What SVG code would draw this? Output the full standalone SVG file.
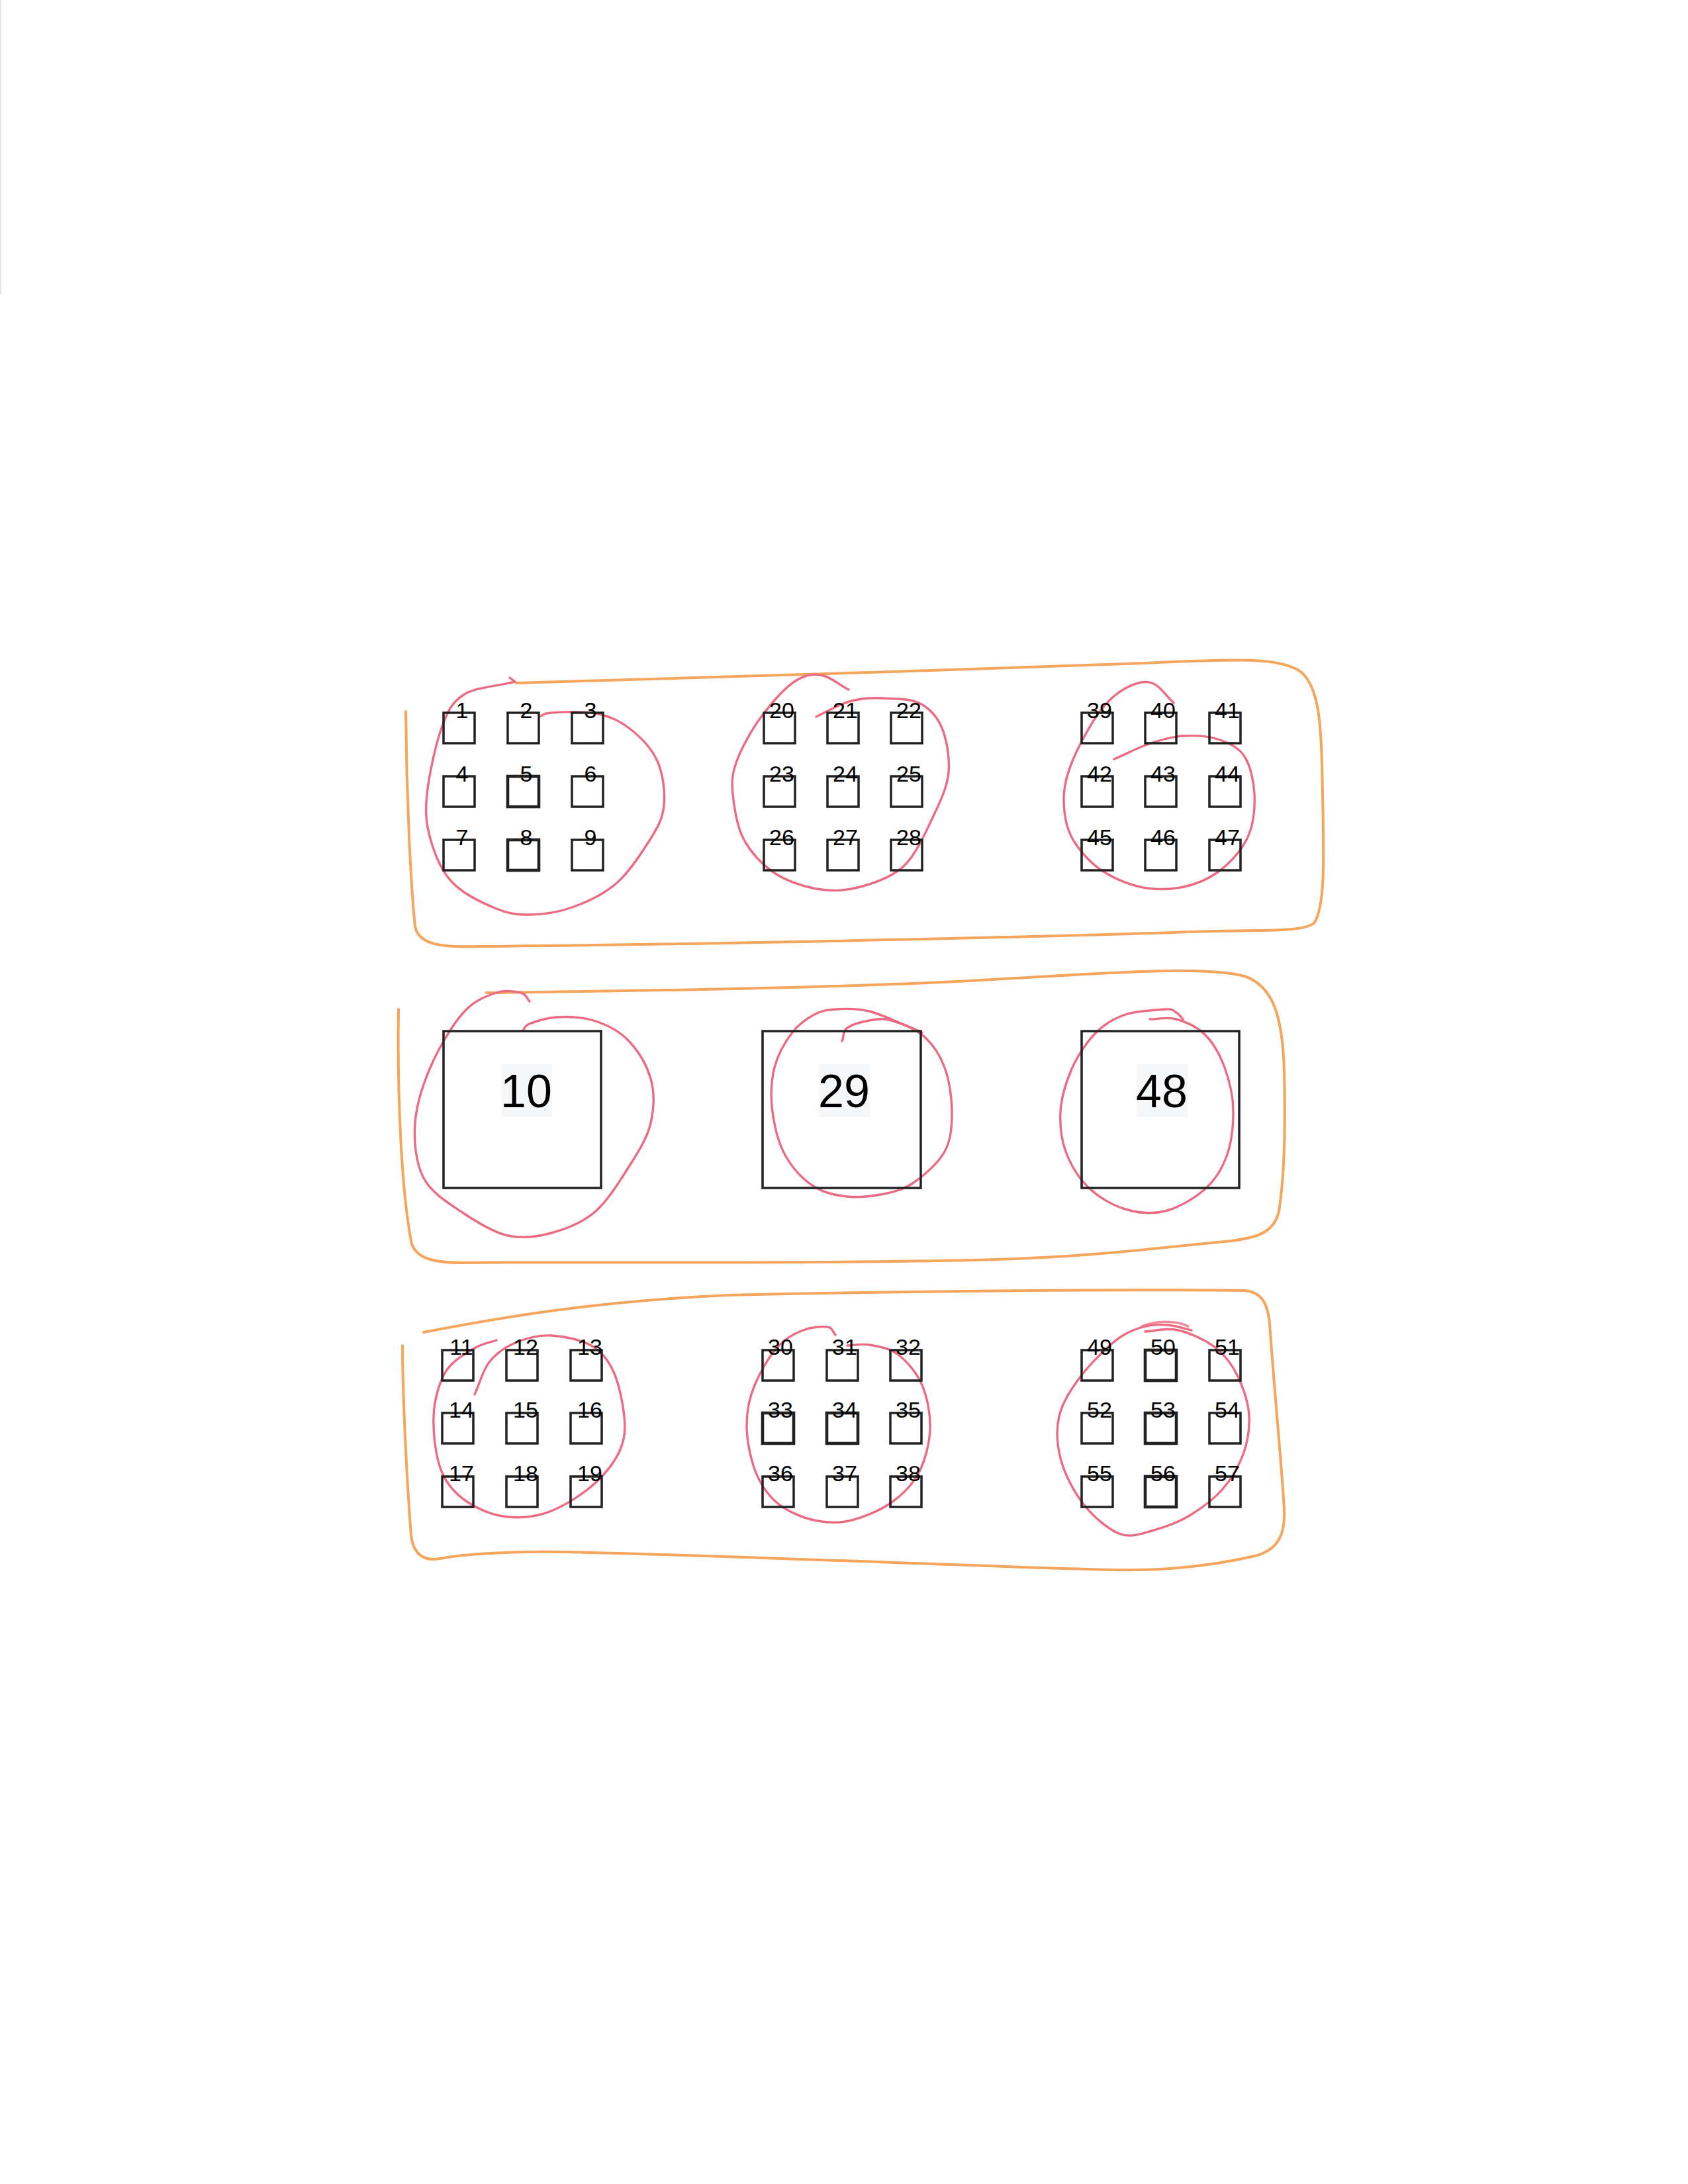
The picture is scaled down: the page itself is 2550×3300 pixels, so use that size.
<svg xmlns="http://www.w3.org/2000/svg" width="2550" height="3300" viewBox="0 0 2550 3300">
<style>
.bx{fill:none;stroke:#222;stroke-width:3.5}
.bx.b{stroke-width:4.6}
.lb{font-family:"Liberation Sans",Arial,sans-serif;font-size:34px;fill:#000;text-anchor:middle}
.big{font-family:"Liberation Sans",Arial,sans-serif;font-size:70px;fill:#000;text-anchor:middle}
.lbg{fill:#f6f7f9}
.red{fill:none;stroke:#ec6b82;stroke-width:3.4;stroke-linecap:round;stroke-linejoin:round}
.org{fill:none;stroke:#f5a65c;stroke-width:4;stroke-linecap:round;stroke-linejoin:round}
</style>
<rect x="0" y="0" width="2550" height="3300" fill="#ffffff"/>
<line x1="1" y1="0" x2="1" y2="445" stroke="#e4e4e4" stroke-width="2"/>

<g id="outlines">
<path id="band-top" class="org" d="M780,1032 C1000,1026 1400,1014 1700,1003 C1850,997 1930,990 1965,1015 C1995,1040 1996,1100 1998,1200 C2000,1300 2002,1370 1985,1395 C1965,1410 1900,1404 1800,1408 C1500,1418 1000,1428 720,1430 C660,1432 632,1425 627,1400 C620,1330 614,1200 613,1075"/>
<path id="band-mid" class="org" d="M735,1500 C1000,1497 1300,1492 1500,1480 C1700,1468 1820,1460 1880,1475 C1925,1490 1938,1540 1940,1620 C1942,1700 1940,1780 1932,1830 C1925,1862 1900,1870 1860,1875 C1750,1885 1650,1900 1470,1904 C1200,1910 900,1906 700,1908 C650,1908 630,1900 622,1880 C606,1800 600,1650 602,1525"/>
<path id="band-bot" class="org" d="M640,2013 C760,1990 900,1966 1100,1957 C1400,1950 1700,1948 1880,1950 C1905,1952 1915,1968 1918,2000 C1925,2100 1935,2200 1940,2280 C1942,2320 1930,2340 1900,2350 C1850,2362 1780,2374 1680,2372 C1500,2368 1100,2350 850,2345 C770,2344 700,2348 665,2355 C638,2360 624,2346 621,2320 C614,2230 608,2100 608,2033"/>
</g>

<g id="loops">
<path id="loop-a-top" class="red" d="M770,1024 L778,1030 C752,1037 718,1038 700,1050 S676,1075 667,1100 S648,1172 645,1200 S644,1245 650,1267 S666,1315 683,1333 S730,1365 750,1373 S780,1382 800,1382 S845,1378 867,1370 S914,1350 933,1333 S971,1286 983,1267 S1001,1236 1003,1217 S1002,1170 993,1150 S966,1112 950,1100 S920,1082 900,1078 S847,1076 833,1077 S822,1080 817,1082"/>
<path id="loop-b-top" class="red" d="M1282,1042 C1268,1035 1254,1022 1240,1020 S1215,1020 1200,1030 S1165,1063 1150,1083 S1120,1131 1113,1150 S1105,1181 1107,1200 S1113,1248 1123,1267 S1149,1304 1167,1317 S1211,1339 1233,1343 S1278,1346 1300,1340 S1349,1325 1367,1307 S1399,1256 1410,1233 S1431,1189 1433,1167 S1430,1117 1423,1100 S1405,1071 1390,1063 S1351,1056 1333,1055 S1300,1055 1283,1060 S1250,1075 1233,1083"/>
<path id="loop-c-top" class="red" d="M1773,1062 C1762,1052 1752,1036 1740,1032 S1713,1033 1700,1040 S1673,1059 1660,1077 S1629,1128 1620,1150 S1607,1188 1607,1207 S1610,1249 1620,1267 S1648,1305 1667,1317 S1711,1339 1733,1342 S1780,1343 1800,1337 S1839,1320 1853,1307 S1880,1278 1887,1260 S1896,1220 1895,1200 S1889,1157 1880,1143 S1856,1122 1840,1117 S1805,1111 1787,1112 S1750,1119 1733,1125 S1700,1140 1683,1147"/>
<path id="loop-a-mid" class="red" d="M800,1513 C796,1509 795,1502 787,1500 S765,1495 750,1500 S717,1511 700,1530 S662,1585 650,1613 S629,1669 627,1697 S628,1757 640,1780 S679,1819 700,1833 S745,1862 767,1867 S811,1869 833,1863 S881,1847 900,1830 S936,1785 950,1763 S978,1719 983,1697 S989,1651 983,1630 S964,1588 950,1573 S918,1549 900,1543 S857,1536 840,1537 S808,1544 800,1547 S793,1554 790,1557"/>
<path id="loop-b-mid" class="red" d="M1272,1573 C1275,1566 1273,1558 1280,1553 S1302,1544 1313,1542 S1333,1538 1347,1542 S1384,1555 1397,1567 S1420,1594 1427,1613 S1438,1659 1438,1680 S1437,1722 1427,1740 S1396,1776 1380,1787 S1347,1802 1330,1805 S1297,1810 1280,1808 S1246,1803 1230,1793 S1198,1766 1187,1747 S1170,1702 1167,1680 S1165,1633 1170,1613 S1187,1573 1197,1560 S1219,1539 1230,1533 S1249,1526 1263,1525 S1296,1524 1313,1528 S1350,1542 1363,1547 S1383,1556 1393,1560"/>
<path id="loop-c-mid" class="red" d="M1737,1540 C1750,1540 1763,1536 1777,1540 S1808,1551 1820,1563 S1843,1594 1850,1613 S1863,1658 1863,1680 S1860,1728 1853,1747 S1836,1783 1820,1797 S1780,1825 1760,1830 S1720,1833 1700,1827 S1658,1808 1643,1793 S1617,1759 1610,1740 S1601,1700 1602,1680 S1609,1640 1617,1620 S1639,1578 1653,1563 S1682,1539 1700,1533 S1747,1526 1760,1525 S1773,1528 1777,1530 S1784,1537 1787,1540"/>
<path id="loop-a-bot" class="red" d="M750,2025 C739,2029 730,2029 717,2037 S683,2056 673,2073 S656,2115 655,2140 S658,2201 667,2223 S690,2259 707,2270 S746,2290 767,2292 S811,2292 833,2283 S883,2256 900,2240 S930,2207 937,2190 S945,2160 943,2140 S935,2091 927,2073 S909,2042 893,2033 S851,2019 833,2018 S799,2021 783,2027 S751,2044 740,2057 S725,2090 717,2107"/>
<path id="loop-b-bot" class="red" d="M1262,2017 C1258,2013 1258,2006 1250,2005 S1226,2005 1213,2010 S1185,2023 1173,2037 S1148,2074 1140,2093 S1128,2132 1128,2153 S1133,2201 1140,2220 S1158,2257 1173,2270 S1211,2293 1230,2297 S1268,2302 1287,2297 S1330,2282 1347,2270 S1377,2245 1387,2227 S1404,2182 1405,2160 S1401,2112 1393,2093 S1370,2057 1357,2047 S1326,2034 1313,2032 S1291,2033 1280,2033"/>
<path id="loop-c-bot" class="red" d="M1800,2010 C1788,2007 1776,2003 1763,2002 S1734,2002 1720,2007 S1695,2017 1680,2030 S1643,2065 1630,2083 S1605,2119 1600,2140 S1597,2185 1603,2207 S1623,2255 1637,2273 S1673,2310 1690,2317 S1722,2318 1740,2313 S1779,2301 1797,2290 S1834,2265 1847,2250 S1870,2218 1877,2200 S1888,2160 1887,2140 S1878,2097 1870,2080 S1852,2049 1837,2037 S1798,2014 1780,2010 S1747,2011 1730,2012"/>
<path class="red" d="M1725,2004 C1745,1996 1775,1994 1795,2004" opacity="0.8"/>
</g>

<g id="connectors"></g>

<g id="nodes">
<g id="n1"><rect class="bx" x="670" y="1077" width="47" height="46"/><text class="lb" x="698" y="1085">1</text></g>
<g id="n2"><rect class="bx" x="767" y="1077" width="47" height="46"/><text class="lb" x="795" y="1085">2</text></g>
<g id="n3"><rect class="bx" x="864" y="1077" width="47" height="46"/><text class="lb" x="892" y="1085">3</text></g>
<g id="n4"><rect class="bx" x="670" y="1173" width="47" height="46"/><text class="lb" x="698" y="1181">4</text></g>
<g id="n5"><rect class="bx b" x="767" y="1173" width="47" height="46"/><text class="lb" x="795" y="1181">5</text></g>
<g id="n6"><rect class="bx" x="864" y="1173" width="47" height="46"/><text class="lb" x="892" y="1181">6</text></g>
<g id="n7"><rect class="bx" x="670" y="1269" width="47" height="46"/><text class="lb" x="698" y="1277">7</text></g>
<g id="n8"><rect class="bx b" x="767" y="1269" width="47" height="46"/><text class="lb" x="795" y="1277">8</text></g>
<g id="n9"><rect class="bx" x="864" y="1269" width="47" height="46"/><text class="lb" x="892" y="1277">9</text></g>

<g id="n20"><rect class="bx" x="1154" y="1077" width="47" height="46"/><text class="lb" x="1181" y="1085">20</text></g>
<g id="n21"><rect class="bx" x="1250" y="1077" width="47" height="46"/><text class="lb" x="1277" y="1085">21</text></g>
<g id="n22"><rect class="bx" x="1346" y="1077" width="47" height="46"/><text class="lb" x="1373" y="1085">22</text></g>
<g id="n23"><rect class="bx" x="1154" y="1173" width="47" height="46"/><text class="lb" x="1181" y="1181">23</text></g>
<g id="n24"><rect class="bx" x="1250" y="1173" width="47" height="46"/><text class="lb" x="1277" y="1181">24</text></g>
<g id="n25"><rect class="bx" x="1346" y="1173" width="47" height="46"/><text class="lb" x="1373" y="1181">25</text></g>
<g id="n26"><rect class="bx" x="1154" y="1269" width="47" height="46"/><text class="lb" x="1181" y="1277">26</text></g>
<g id="n27"><rect class="bx" x="1250" y="1269" width="47" height="46"/><text class="lb" x="1277" y="1277">27</text></g>
<g id="n28"><rect class="bx" x="1346" y="1269" width="47" height="46"/><text class="lb" x="1373" y="1277">28</text></g>

<g id="n39"><rect class="bx" x="1634" y="1077" width="47" height="46"/><text class="lb" x="1661" y="1085">39</text></g>
<g id="n40"><rect class="bx" x="1730" y="1077" width="47" height="46"/><text class="lb" x="1757" y="1085">40</text></g>
<g id="n41"><rect class="bx" x="1827" y="1077" width="47" height="46"/><text class="lb" x="1854" y="1085">41</text></g>
<g id="n42"><rect class="bx" x="1634" y="1173" width="47" height="46"/><text class="lb" x="1661" y="1181">42</text></g>
<g id="n43"><rect class="bx" x="1730" y="1173" width="47" height="46"/><text class="lb" x="1757" y="1181">43</text></g>
<g id="n44"><rect class="bx" x="1827" y="1173" width="47" height="46"/><text class="lb" x="1854" y="1181">44</text></g>
<g id="n45"><rect class="bx" x="1634" y="1269" width="47" height="46"/><text class="lb" x="1661" y="1277">45</text></g>
<g id="n46"><rect class="bx" x="1730" y="1269" width="47" height="46"/><text class="lb" x="1757" y="1277">46</text></g>
<g id="n47"><rect class="bx" x="1827" y="1269" width="47" height="46"/><text class="lb" x="1854" y="1277">47</text></g>

<g id="n10"><rect class="bx" x="670" y="1558" width="238" height="237"/><rect class="lbg" x="757" y="1608" width="77" height="80"/><text class="big" x="795" y="1673">10</text></g>
<g id="n29"><rect class="bx" x="1152" y="1558" width="239" height="237"/><rect class="lbg" x="1237" y="1608" width="77" height="80"/><text class="big" x="1275" y="1673">29</text></g>
<g id="n48"><rect class="bx" x="1634" y="1558" width="238" height="237"/><rect class="lbg" x="1717" y="1608" width="77" height="80"/><text class="big" x="1755" y="1673">48</text></g>

<g id="n11"><rect class="bx" x="668" y="2040" width="47" height="46"/><text class="lb" x="697" y="2047">11</text></g>
<g id="n12"><rect class="bx" x="765" y="2040" width="47" height="46"/><text class="lb" x="794" y="2047">12</text></g>
<g id="n13"><rect class="bx" x="862" y="2040" width="47" height="46"/><text class="lb" x="891" y="2047">13</text></g>
<g id="n14"><rect class="bx" x="668" y="2135" width="47" height="46"/><text class="lb" x="697" y="2142">14</text></g>
<g id="n15"><rect class="bx" x="765" y="2135" width="47" height="46"/><text class="lb" x="794" y="2142">15</text></g>
<g id="n16"><rect class="bx" x="862" y="2135" width="47" height="46"/><text class="lb" x="891" y="2142">16</text></g>
<g id="n17"><rect class="bx" x="668" y="2231" width="47" height="46"/><text class="lb" x="697" y="2238">17</text></g>
<g id="n18"><rect class="bx" x="765" y="2231" width="47" height="46"/><text class="lb" x="794" y="2238">18</text></g>
<g id="n19"><rect class="bx" x="862" y="2231" width="47" height="46"/><text class="lb" x="891" y="2238">19</text></g>

<g id="n30"><rect class="bx" x="1152" y="2040" width="47" height="46"/><text class="lb" x="1179" y="2047">30</text></g>
<g id="n31"><rect class="bx" x="1249" y="2040" width="47" height="46"/><text class="lb" x="1276" y="2047">31</text></g>
<g id="n32"><rect class="bx" x="1345" y="2040" width="47" height="46"/><text class="lb" x="1372" y="2047">32</text></g>
<g id="n33"><rect class="bx b" x="1152" y="2135" width="47" height="46"/><text class="lb" x="1179" y="2142">33</text></g>
<g id="n34"><rect class="bx b" x="1249" y="2135" width="47" height="46"/><text class="lb" x="1276" y="2142">34</text></g>
<g id="n35"><rect class="bx" x="1345" y="2135" width="47" height="46"/><text class="lb" x="1372" y="2142">35</text></g>
<g id="n36"><rect class="bx" x="1152" y="2231" width="47" height="46"/><text class="lb" x="1179" y="2238">36</text></g>
<g id="n37"><rect class="bx" x="1249" y="2231" width="47" height="46"/><text class="lb" x="1276" y="2238">37</text></g>
<g id="n38"><rect class="bx" x="1345" y="2231" width="47" height="46"/><text class="lb" x="1372" y="2238">38</text></g>

<g id="n49"><rect class="bx" x="1634" y="2040" width="47" height="46"/><text class="lb" x="1661" y="2047">49</text></g>
<g id="n50"><rect class="bx b" x="1730" y="2040" width="47" height="46"/><text class="lb" x="1757" y="2047">50</text></g>
<g id="n51"><rect class="bx" x="1827" y="2040" width="47" height="46"/><text class="lb" x="1854" y="2047">51</text></g>
<g id="n52"><rect class="bx" x="1634" y="2135" width="47" height="46"/><text class="lb" x="1661" y="2142">52</text></g>
<g id="n53"><rect class="bx b" x="1730" y="2135" width="47" height="46"/><text class="lb" x="1757" y="2142">53</text></g>
<g id="n54"><rect class="bx" x="1827" y="2135" width="47" height="46"/><text class="lb" x="1854" y="2142">54</text></g>
<g id="n55"><rect class="bx" x="1634" y="2231" width="47" height="46"/><text class="lb" x="1661" y="2238">55</text></g>
<g id="n56"><rect class="bx b" x="1730" y="2231" width="47" height="46"/><text class="lb" x="1757" y="2238">56</text></g>
<g id="n57"><rect class="bx" x="1827" y="2231" width="47" height="46"/><text class="lb" x="1854" y="2238">57</text></g>
</g>
</svg>
